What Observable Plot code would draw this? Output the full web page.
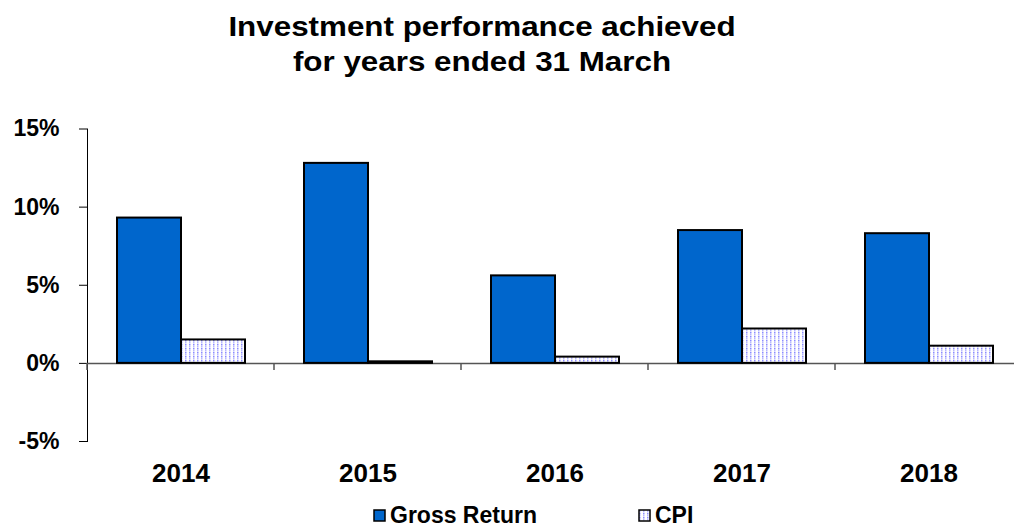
<!DOCTYPE html>
<html><head><meta charset="utf-8">
<script src="https://cdn.jsdelivr.net/npm/d3@7"></script>
<script src="https://cdn.jsdelivr.net/npm/@observablehq/plot@0.6"></script>
<style>
html,body{margin:0;padding:0;background:#fff;overflow:hidden;}
body{width:1014px;height:530px;position:relative;font-family:"Liberation Sans",Arial,sans-serif;color:#000;}
#title{position:absolute;left:0;top:9px;width:964px;text-align:center;font-weight:bold;font-size:28px;line-height:35px;transform:scaleX(1.12);transform-origin:482px 0;}
#chart{position:absolute;left:0;top:100px;width:1022px;}
#chart svg{max-width:none !important;}
.item{position:absolute;top:504px;display:flex;align-items:center;font-weight:bold;font-size:23px;line-height:23px;white-space:nowrap;}
.sw{width:13px;height:13px;margin-right:4px;display:block;}
</style>
</head>
<body>
<div id="title">Investment performance achieved<br>for years ended 31 March</div>
<div id="chart"></div>
<div id="legend"></div>
<script>
const years = ["2014", "2015", "2016", "2017", "2018"];
const seriesNames = ["Gross Return", "CPI"];
const grossReturn = [9.3, 12.8, 5.6, 8.5, 8.3];
const cpi = [1.5, 0.1, 0.4, 2.2, 1.1];
const yTicks = [-5, 0, 5, 10, 15];
const seriesColors = ["#0066CC", "url(#cpiDots)"];

const rows = years.flatMap((yr, i) => [
  {year: yr, series: seriesNames[0], value: grossReturn[i]},
  {year: yr, series: seriesNames[1], value: cpi[i]}
]);

const chart = Plot.plot({
  width: 1022,
  height: 400,
  marginLeft: 87,
  marginRight: 0,
  marginTop: 28.5,
  marginBottom: 59,
  style: {fontFamily: '"Liberation Sans", Arial, sans-serif', fontWeight: "bold", fontSize: "23px", color: "#000", background: "transparent", overflow: "visible", maxWidth: "none"},
  fx: {domain: years, padding: 0, label: null, axis: "bottom", tickSize: 0, tickPadding: 22},
  x: {domain: seriesNames, axis: null, paddingInner: 0, paddingOuter: 0.4385},
  y: {domain: [-5, 15], ticks: yTicks, tickFormat: d => d + "%", tickSize: 8, tickPadding: 20, label: null, line: true},
  color: {domain: seriesNames, range: seriesColors},
  marks: [
    Plot.ruleY([0], {stroke: "#555", strokeWidth: 1.5}),
    Plot.barY(rows, {fx: "year", x: "series", y: "value", fill: "series", stroke: "#000", strokeWidth: 2})
  ]
});
chart.style.maxWidth = "none";

const svg = d3.select(chart);
// dotted pattern for CPI bars
function addPattern(sel, id) {
  const pat = sel.append("pattern").attr("id", id).attr("patternUnits", "userSpaceOnUse").attr("width", 4).attr("height", 4);
  pat.append("rect").attr("width", 4).attr("height", 4).attr("fill", "#fff");
  pat.append("rect").attr("x", 1).attr("y", 0).attr("width", 1.5).attr("height", 1.5).attr("fill", "#8c8cff");
  pat.append("rect").attr("x", 1).attr("y", 2).attr("width", 1.5).attr("height", 1.5).attr("fill", "#b8b8ff");
}
addPattern(svg.insert("defs", ":first-child"), "cpiDots");

// year labels larger
svg.selectAll("text").filter(function() { return years.includes(this.textContent); }).style("font-size", "26px");

// category boundary ticks on the zero line
const fxS = chart.scale("fx");
const yS = chart.scale("y");
const fxf = d3.scaleBand(fxS.domain, fxS.range);
const yf = d3.scaleLinear(yS.domain, yS.range);
const y0 = yf(0);
const bounds = years.map(y => fxf(y)).concat([fxS.range[1]]);
svg.append("g").selectAll("line").data(bounds).join("line")
  .attr("x1", d => d).attr("x2", d => d).attr("y1", y0).attr("y2", y0 + 7)
  .attr("stroke", "#555").attr("stroke-width", 1.5);

document.getElementById("chart").appendChild(chart);

// legend
const legend = d3.select("#legend");
const legendLeft = [373, 638];
seriesNames.forEach((name, i) => {
  const item = legend.append("div").attr("class", "item").style("left", legendLeft[i] + "px");
  const sw = item.append("svg").attr("class", "sw").attr("width", 13).attr("height", 13);
  if (i === 1) addPattern(sw.append("defs"), "cpiDotsLegend");
  sw.append("rect").attr("x", 1).attr("y", 1).attr("width", 11).attr("height", 11)
    .attr("fill", i === 1 ? "url(#cpiDotsLegend)" : seriesColors[0])
    .attr("stroke", "#000").attr("stroke-width", 1.5);
  item.append("span").text(name);
});
</script>
</body></html>
